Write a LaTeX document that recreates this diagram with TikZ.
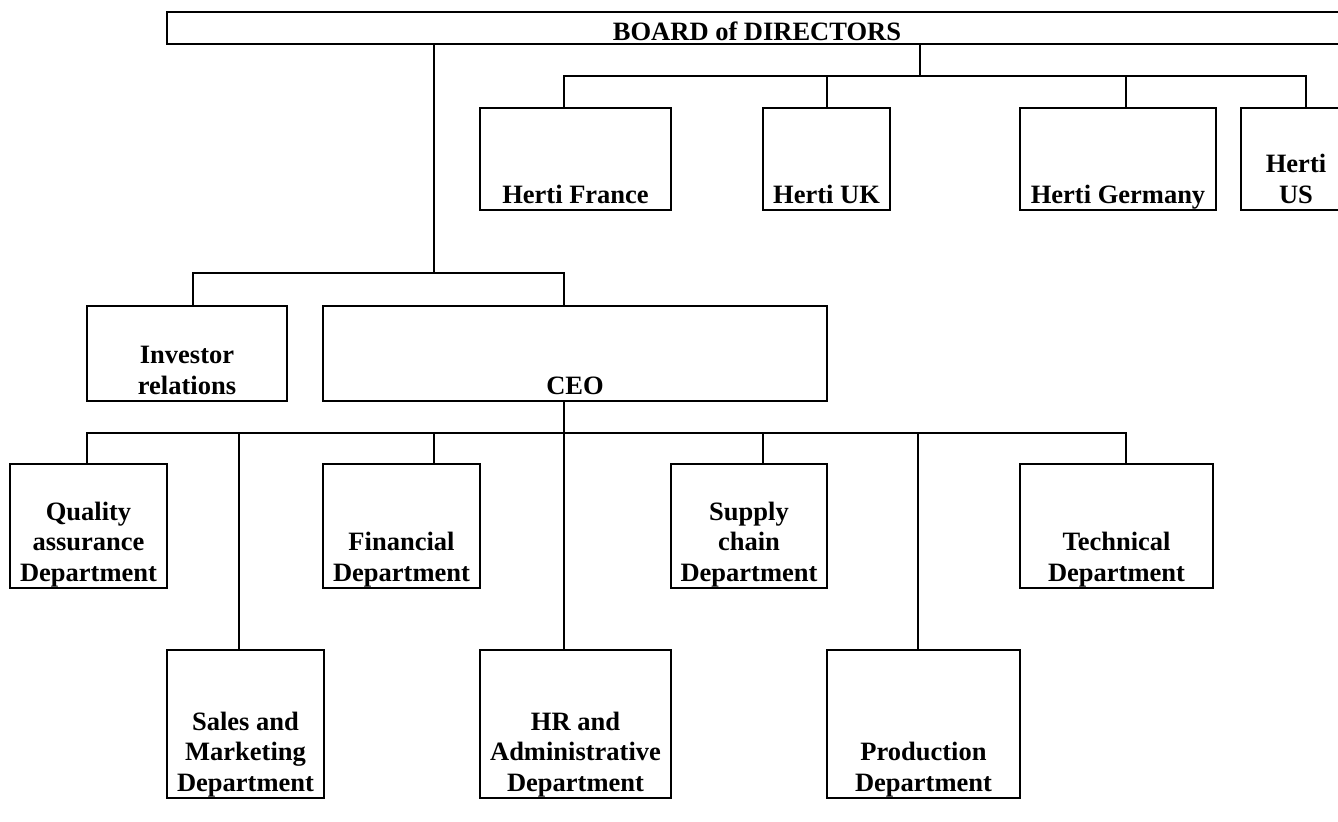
\documentclass[tikz,border=0pt]{standalone}
\usepackage{fontspec}
\setmainfont{Liberation Serif}
\usetikzlibrary{fit}

\begin{document}
\begin{tikzpicture}[
    x=0.5pt, y=-0.5pt,
    line width=0.8pt,
    font=\fontsize{13.25}{15.25}\selectfont\bfseries,
    unit/.style={draw, inner sep=0pt, fit={#1}},
    tag/.style={anchor=south, align=center, inner sep=1.2pt, text depth=0.22em},
  ]
    \useasboundingbox (0,0) rectangle (1338,821);

    % --- board and the four subsidiaries ---
    \node[unit={(167,12) (1347,44)}, label={[tag, inner sep=2pt, text depth=0pt]south:BOARD of DIRECTORS}] (board) {};
    \node[unit={(480,108) (671,210)}, label={[tag]south:Herti France}] (fr) {};
    \node[unit={(763,108) (890,210)}, label={[tag]south:Herti UK}] (uk) {};
    \node[unit={(1020,108) (1216,210)}, label={[tag]south:Herti Germany}] (de) {};
    \node[unit={(1241,108) (1351,210)}, label={[tag]south:{Herti\\US}}] (us) {};

    % --- investor relations and CEO ---
    \node[unit={(87,306) (287,401)}, label={[tag]south:{Investor\\relations}}] (ir) {};
    \node[unit={(323,306) (827,401)}, label={[tag]south:CEO}] (ceo) {};

    % --- departments, upper row ---
    \node[unit={(10,464) (167,588)}, label={[tag]south:{Quality\\assurance\\Department}}] (qa) {};
    \node[unit={(323,464) (480,588)}, label={[tag]south:{Financial\\Department}}] (fin) {};
    \node[unit={(671,464) (827,588)}, label={[tag]south:{Supply\\chain\\Department}}] (sc) {};
    \node[unit={(1020,464) (1213,588)}, label={[tag]south:{Technical\\Department}}] (tech) {};

    % --- departments, lower row ---
    \node[unit={(167,650) (324,798)}, label={[tag]south:{Sales and\\Marketing\\Department}}] (sm) {};
    \node[unit={(480,650) (671,798)}, label={[tag]south:{HR and\\Administrative\\Department}}] (hr) {};
    \node[unit={(827,650) (1020,798)}, label={[tag]south:{Production\\Department}}] (prod) {};

    % --- board -> subsidiaries ---
    \coordinate (hub) at (920,76);
    \draw (board.south -| hub) -- (hub);
    \draw (fr.north -| 564,0) |- (hub) -| (us.north -| 1306,0);
    \foreach \n/\x in {uk/827, de/1126}
      \draw (\n.north -| \x,0) -- (hub -| \x,0);

    % --- board -> investor relations / CEO ---
    \coordinate (hubb) at (434,273);
    \draw (board.south -| hubb) -- (hubb);
    \draw (ir.north -| 193,0) |- (hubb) -| (ceo.north -| 564,0);

    % --- CEO -> departments ---
    \coordinate (hubc) at (564,433);
    \draw (ceo.south -| hubc) -- (hr.north -| hubc);
    \draw (qa.north -| 87,0) |- (hubc) -| (tech.north -| 1126,0);
    \foreach \n/\x in {sm/239, fin/434, sc/763, prod/918}
      \draw (\n.north -| \x,0) -- (hubc -| \x,0);
\end{tikzpicture}
\end{document}
